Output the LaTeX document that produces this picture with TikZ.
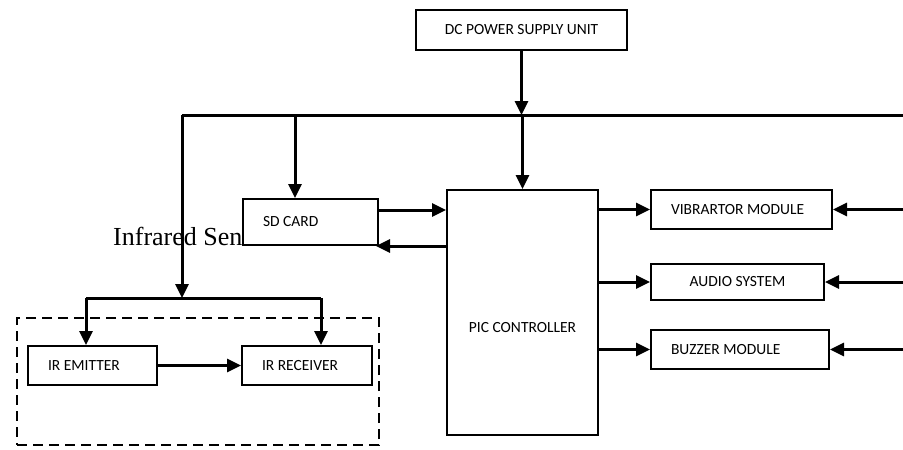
\documentclass[tikz,border=0pt]{standalone}
\usepackage{fontspec}
\setmainfont{Liberation Serif}
\newfontfamily\boxfont{Carlito}
\usetikzlibrary{arrows.meta, positioning, calc}

\begin{document}
\begin{tikzpicture}[x=1pt, y=-1pt,
    blk/.style={draw, line width=2pt, fill=white, inner xsep=20pt, inner ysep=0pt,
      font=\boxfont\fontsize{15.5}{18}\selectfont},
    lbl/.style={font=\boxfont\fontsize{15.5}{18}\selectfont},
    wire/.style={line width=3pt},
    arr/.style={wire, -{Triangle[length=14pt, width=13pt]}},
    grp/.style={draw, line width=2.5pt, dash pattern=on 10pt off 6pt, inner sep=0pt}]
  \useasboundingbox (0,0) rectangle (903,450);

  \node[anchor=west, font=\fontsize{26}{30}\selectfont, inner sep=0pt] (irtitle) at (113,236) {Infrared Sensor};

  \node[grp, minimum width=362pt, minimum height=127pt] (irgrp) at (198,381.5) {};

  \node[blk, minimum width=211pt, minimum height=40pt] (dc) at (521.5,30) {DC POWER SUPPLY UNIT};
  \node[blk, minimum height=46pt] (sd) at (310.5,222) {\makebox[95pt][l]{SD CARD}};
  \node[blk, minimum width=151pt, minimum height=245pt,
        label={[lbl, yshift=-15pt]center:PIC CONTROLLER}] (pic) at (522.5,312.5) {};
  \node[blk, minimum height=39pt] (vib) at (741.5,209.5) {\makebox[141pt][l]{VIBRARTOR MODULE}};
  \node[blk, minimum height=36pt] (aud) at (737.5,282) {\makebox[133pt]{AUDIO SYSTEM}};
  \node[blk, minimum height=39pt] (buz) at (740,349.5) {\makebox[138pt][l]{BUZZER MODULE}};
  \node[blk, minimum height=39pt] (emit) at (92.5,365.5) {\makebox[89pt][l]{IR EMITTER}};
  \node[blk, minimum height=39pt] (recv) at (307,365.5) {\makebox[90pt][l]{IR RECEIVER}};

  \coordinate (busL) at (182,115);
  \coordinate (busR) at (903,115);
  \coordinate (tapSD) at (295,115);
  \coordinate (split) at (182,298);
  \coordinate (brL) at (86,298);
  \coordinate (brR) at (321,298);

  \draw[wire] (busL) -- (busR);
  \draw[arr] (dc.south) -- (dc.south |- busR);
  \draw[arr] (pic.north |- busR) -- (pic.north);
  \draw[arr] (tapSD) -- (tapSD |- sd.north);
  \draw[arr] (busL) -- (split);
  \draw[wire] (brL) -- (brR);
  \draw[arr] (brL) -- (brL |- emit.north);
  \draw[arr] (brR) -- (brR |- recv.north);
  \draw[arr] (emit.east) -- (recv.west);

  \draw[arr] ([yshift=12pt]sd.east) -- ([yshift=12pt]sd.east -| pic.west);
  \draw[arr] (sd.south east -| pic.west) -- ([xshift=-3pt]sd.south east);

  \draw[arr] (vib.west -| pic.east) -- (vib.west);
  \draw[arr] (aud.west -| pic.east) -- (aud.west);
  \draw[arr] (buz.west -| pic.east) -- (buz.west);
  \draw[arr] (vib.east -| busR) -- (vib.east);
  \draw[arr] (aud.east -| busR) -- (aud.east);
  \draw[arr] (buz.east -| busR) -- (buz.east);
\end{tikzpicture}
\end{document}
